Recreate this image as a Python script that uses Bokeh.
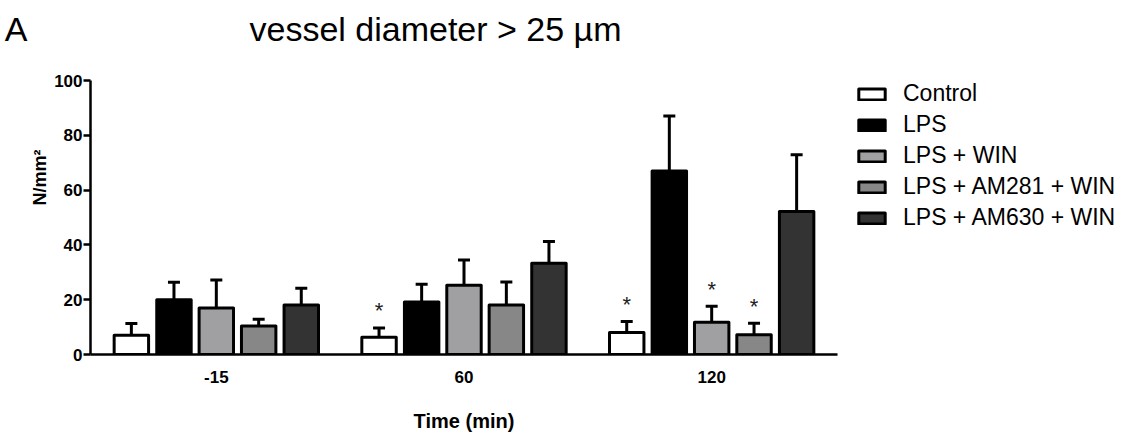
from bokeh.plotting import figure
from bokeh.models import Range1d, FixedTicker, Legend, LegendItem, Label, LinearAxis
from bokeh.core.properties import value
from bokeh.embed import file_html
from bokeh.resources import INLINE

# ---- data ----
panel_letter = "A"
title_text = "vessel diameter > 25 µm"
time_labels = ["-15", "60", "120"]
groups = ["Control", "LPS", "LPS + WIN", "LPS + AM281 + WIN", "LPS + AM630 + WIN"]
colors = ["#ffffff", "#000000", "#a0a0a2", "#878787", "#333333"]

means = {
    "Control":            [7.0, 6.3, 8.0],
    "LPS":                [20.0, 19.2, 67.0],
    "LPS + WIN":          [17.0, 25.3, 11.8],
    "LPS + AM281 + WIN":  [10.4, 18.1, 7.2],
    "LPS + AM630 + WIN":  [18.1, 33.3, 52.2],
}
sem = {
    "Control":            [4.3, 3.4, 4.0],
    "LPS":                [6.4, 6.4, 20.0],
    "LPS + WIN":          [10.2, 9.2, 5.8],
    "LPS + AM281 + WIN":  [2.5, 8.4, 4.2],
    "LPS + AM630 + WIN":  [6.1, 7.9, 20.7],
}
star = {
    "Control":            [False, True, True],
    "LPS":                [False, False, False],
    "LPS + WIN":          [False, False, True],
    "LPS + AM281 + WIN":  [False, False, True],
    "LPS + AM630 + WIN":  [False, False, False],
}
y_ticks = [0, 20, 40, 60, 80, 100]

FONT = "Liberation Sans"
group_pos = [0, 1, 2]
offsets = [-0.343, -0.171, 0.0, 0.171, 0.343]
bar_w = 0.139

# ---- layout (pixels) ----
FRAME_LEFT = 90
FRAME_W = 747
FRAME_H = 354            # frame runs from top of canvas down to the zero line
BOTTOM = 78
PX_PER_Y = 2.74
x_left, x_right = -0.508, 2.508
y_top = FRAME_H / PX_PER_Y
letter_y = (FRAME_H - 28) / PX_PER_Y   # vertical position of the panel letter

p = figure(frame_width=FRAME_W, frame_height=FRAME_H, output_backend="svg",
           toolbar_location=None,
           x_range=Range1d(x_left, x_right), y_range=Range1d(0, y_top),
           min_border_left=FRAME_LEFT, min_border_top=0, min_border_right=0,
           min_border_bottom=BOTTOM)
p.outline_line_color = None
p.grid.visible = False

items = []
for g, off, col in zip(groups, offsets, colors):
    xs = [gp + off for gp in group_pos]
    tops = means[g]
    errs = [m + s for m, s in zip(means[g], sem[g])]
    p.segment(x0=xs, y0=tops, x1=xs, y1=errs, line_color="black", line_width=3)
    p.scatter(x=xs, y=errs, marker="dash", size=12, line_color="black", line_width=3)
    r = p.vbar(x=xs, top=tops, bottom=0, width=bar_w, fill_color=col,
               line_color="black", line_width=3, line_join="round")
    items.append(LegendItem(label=g, renderers=[r]))
    sx = [x for x, s in zip(xs, star[g]) if s]
    sy = [e for e, s in zip(errs, star[g]) if s]
    if sx:
        p.text(x=sx, y=sy, text=["*"] * len(sx), text_align="center",
               text_baseline="alphabetic", y_offset=-17,
               text_font=value(FONT), text_font_size="22px", text_color="#222222")

# x axis
xa = p.xaxis[0]
xa.ticker = FixedTicker(ticks=group_pos)
xa.major_label_overrides = {gp: lab for gp, lab in zip(group_pos, time_labels)}
xa.major_tick_line_color = None
xa.minor_tick_line_color = None
xa.axis_line_width = 2.5
xa.major_label_text_font = FONT
xa.major_label_text_font_style = "bold"
xa.major_label_text_font_size = "17px"
xa.major_label_text_color = "black"
xa.major_label_standoff = 10
xa.axis_label = "Time (min)"
xa.axis_label_text_font = FONT
xa.axis_label_text_font_style = "bold"
xa.axis_label_text_font_size = "20px"
xa.axis_label_text_color = "black"
xa.axis_label_standoff = 24

# y axis
ya = p.yaxis[0]
ya.ticker = FixedTicker(ticks=y_ticks)
ya.bounds = (0, 100)
ya.minor_tick_line_color = None
ya.major_tick_out = 7
ya.major_tick_in = 0
ya.major_tick_line_width = 2.5
ya.axis_line_width = 2.5
ya.major_label_text_font = FONT
ya.major_label_text_font_style = "bold"
ya.major_label_text_font_size = "17px"
ya.major_label_text_color = "black"
ya.major_label_standoff = 1
ya.axis_label = "N/mm²"
ya.axis_label_text_font = FONT
ya.axis_label_text_font_style = "bold"
ya.axis_label_text_font_size = "18px"
ya.axis_label_text_color = "black"
ya.axis_label_standoff = 1

# outer left axis that only carries the panel letter
la = LinearAxis(ticker=FixedTicker(ticks=[letter_y]),
                major_label_overrides={letter_y: panel_letter},
                axis_line_color=None, major_tick_line_color=None,
                minor_tick_line_color=None, major_tick_out=0, major_tick_in=0,
                major_label_standoff=0,
                major_label_text_font=FONT, major_label_text_font_size="34px",
                major_label_text_color="black")
p.add_layout(la, "left")

# legend at the right
legend = Legend(items=items, location=(18, 123), glyph_width=33, glyph_height=14,
                label_text_font=FONT, label_text_font_size="23px", label_text_color="black",
                label_standoff=15, spacing=4, padding=8, margin=6,
                border_line_color=None, background_fill_alpha=0)
p.add_layout(legend, "right")

# title
p.add_layout(Label(x=249 - FRAME_LEFT, y=FRAME_H - 41 + 13, x_units="screen", y_units="screen",
                   text=title_text, text_font=FONT, text_font_size="34px",
                   text_color="black", text_baseline="alphabetic"))

open("out.html", "w").write(file_html(p, INLINE))
